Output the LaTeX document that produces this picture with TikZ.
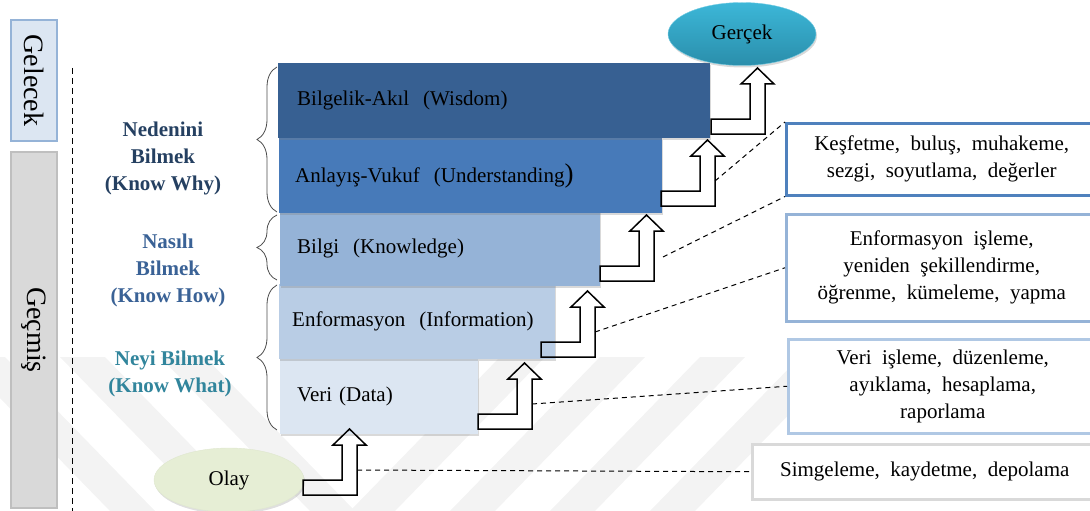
\documentclass[tikz,border=0pt]{standalone}
\usepackage{fontspec}
\setmainfont{Liberation Serif}
\usetikzlibrary{shapes.geometric,shadows,decorations.pathreplacing}

\definecolor{wisc}{HTML}{376092}
\definecolor{undc}{HTML}{477AB9}
\definecolor{knoc}{HTML}{95B3D7}
\definecolor{infc}{HTML}{B9CDE5}
\definecolor{datc}{HTML}{DCE6F2}
\definecolor{whyc}{HTML}{254061}
\definecolor{howc}{HTML}{3A6296}
\definecolor{whatc}{HTML}{31859C}
\definecolor{gelfill}{HTML}{DCE6F2}
\definecolor{gelline}{HTML}{95B3D7}
\definecolor{gecfill}{HTML}{D9D9D9}
\definecolor{gecline}{HTML}{BFBFBF}
\definecolor{gertop}{HTML}{3CB7D8}
\definecolor{gerbot}{HTML}{2A8EAB}
\definecolor{olayc}{HTML}{E6EED5}
\definecolor{boxa}{HTML}{4F81BD}
\definecolor{boxb}{HTML}{95B3D7}
\definecolor{boxc}{HTML}{B0C8E4}
\definecolor{boxd}{HTML}{D9D9D9}
\definecolor{markc}{HTML}{F3F3F3}

\tikzset{
  txt/.style={font=\fontsize{21}{27}\selectfont},
  stepbox/.style={txt, anchor=north west, minimum height=75pt, inner xsep=17pt,
    align=left, drop shadow={shadow xshift=1pt, shadow yshift=-2pt, opacity=0.3}},
  lab/.style={font=\fontsize{21}{27}\selectfont\bfseries, align=center},
  sidebox/.style={rotate=-90, line width=1.2pt, font=\fontsize{28}{28}\selectfont},
  infobox/.style={txt, anchor=north west, align=center, line width=2.5pt, fill=white},
  bracestyle/.style={decorate, decoration={brace, amplitude=20pt, aspect=0.5}, draw=black!70, line width=0.8pt},
  arrowline/.style={draw=black, line width=1.5pt, line join=miter},
  dashline/.style={draw=black, line width=1pt, dash pattern=on 5pt off 4pt},
  uparrow/.pic={
    \draw[arrowline] (0,0) -- (54,0) -- (54,-50) -- (63,-50) -- (46.5,-66)
      -- (30,-50) -- (39,-50) -- (39,-15) -- (0,-15) -- cycle;
    \coordinate (-out) at (54,-25);
  }
}

\begin{document}
\begin{tikzpicture}[x=1pt, y=-1pt]
\useasboundingbox (0,0) rectangle (1090,511);

% faint background stripes
\begin{scope}
  \foreach \a in {-40,60,160}
    \fill[markc] (\a,357) -- (\a+45,357) -- (\a+195,511) -- (\a+150,511) -- cycle;
  \foreach \a in {500,600,700,800}
    \fill[markc] (\a,357) -- (\a+45,357) -- (\a-105,511) -- (\a-150,511) -- cycle;
\end{scope}

% time axis
\node[sidebox, fill=gelfill, draw=gelline, minimum width=121pt, minimum height=46pt] (gelecek) at (34,80.5) {Gelecek};
\node[sidebox, fill=gecfill, draw=gecline, minimum width=356pt, minimum height=46pt] (gecmis) at (34,330) {Geçmiş};
\draw[dashed, line width=1pt, dash pattern=on 6pt off 4pt] (72,68) -- (72,511);

% knowing levels
\node[lab, text=whyc] (why) at (163,158) {Nedenini\\Bilmek\\(Know Why)};
\node[lab, text=howc] (how) at (168,270) {Nasılı\\Bilmek\\(Know How)};
\node[lab, text=whatc] (what) at (170,373.5) {Neyi Bilmek\\(Know What)};

\draw[bracestyle] (277,212) -- (277,67);
\draw[bracestyle] (277,280) -- (277,215);
\draw[bracestyle] (277,430) -- (277,285);

% staircase
\node[stepbox, fill=datc, minimum width=198pt, text width=164pt] (data) at (280,359) {Veri (Data)};
\node[stepbox, fill=infc, minimum width=276pt, inner xsep=13pt, text width=250pt] (info) at (279,284) {Enformasyon~ (Information)};
\node[stepbox, fill=knoc, minimum width=320pt, text width=286pt] (know) at (280,211) {Bilgi~ (Knowledge)};
\node[stepbox, fill=undc, minimum width=383pt, inner xsep=16pt, text width=351pt] (und) at (279,138) {Anlayış-Vukuf~ (Understanding{\fontsize{27}{27}\selectfont)}};
\node[stepbox, fill=wisc, minimum width=432pt, inner xsep=19pt, text width=394pt] (wis) at (278,63) {Bilgelik-Akıl~ (Wisdom)};

% end points
\node[ellipse, txt, minimum width=150pt, minimum height=64pt, fill=olayc, draw=olayc!85!black!20!olayc,
  drop shadow={shadow xshift=1pt, shadow yshift=-2pt, opacity=0.25}] (olay) at (229,480) {Olay};
\node[ellipse, txt, minimum width=148pt, minimum height=63pt, top color=gertop, bottom color=gerbot, draw=gertop!70!white,
  drop shadow={shadow xshift=1pt, shadow yshift=-2pt, opacity=0.3}] (gercek) at (742,34) {Gerçek};

% bent arrows between levels
\pic (a1) at (303,495) {uparrow};
\pic (a2) at (478,429) {uparrow};
\pic (a3) at (541,357) {uparrow};
\pic (a4) at (600,281) {uparrow};
\pic (a5) at (661,206) {uparrow};
\pic (a6) at (711,134) {uparrow};
\coordinate (k4) at (663,257);

% processes
\node[infobox, draw=boxa, minimum width=311pt, minimum height=72pt] (b4) at (785,122) {Keşfetme,~ buluş,~ muhakeme,\\sezgi,~ soyutlama,~ değerler};
\node[infobox, draw=boxb, minimum width=311pt, minimum height=107pt] (b3) at (785,213) {Enformasyon~ işleme,\\yeniden~ şekillendirme,\\öğrenme,~ kümeleme,~ yapma};
\node[infobox, draw=boxc, minimum width=309pt, minimum height=94pt] (b2) at (787,338) {Veri~ işleme,~ düzenleme,\\ayıklama,~ hesaplama,\\raporlama};
\node[infobox, draw=boxd, minimum width=345pt, minimum height=55pt] (b1) at (751,443) {Simgeleme,~ kaydetme,~ depolama};

\draw[dashline] (a1-out) -- (b1.west);
\draw[dashline] (a2-out) -- (b2.west);
\draw[dashline] (a3-out) -- (b3.west);
\draw[dashline] (k4) -- (b4.south west);
\draw[dashline] (a5-out) -- (b4.north west);
\end{tikzpicture}
\end{document}
